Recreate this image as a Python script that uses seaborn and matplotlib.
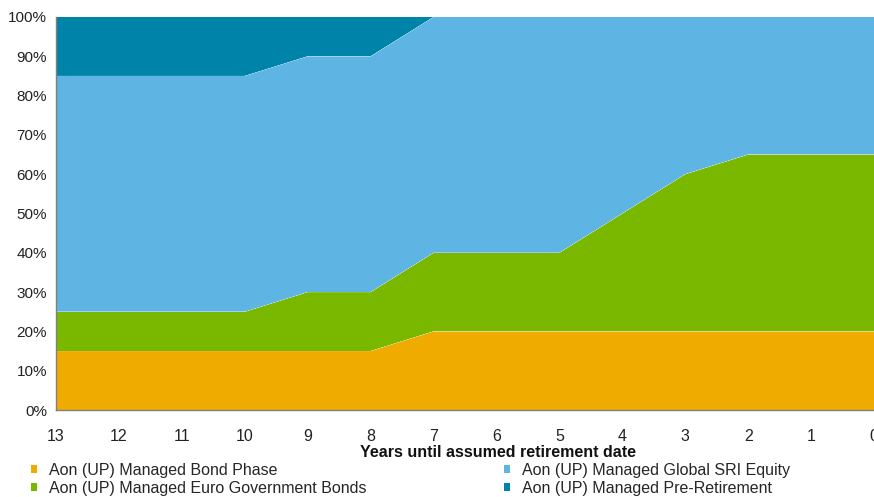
import matplotlib
matplotlib.use("Agg")
import matplotlib.pyplot as plt
import matplotlib.ticker as mticker
from matplotlib.patches import Patch
import pandas as pd
import seaborn as sns
import seaborn.objects as so

years = [13, 12, 11, 10, 9, 8, 7, 6, 5, 4, 3, 2, 1, 0]
bond_phase = [15, 15, 15, 15, 15, 15, 20, 20, 20, 20, 20, 20, 20, 20]
euro_gov = [10, 10, 10, 10, 15, 15, 20, 20, 20, 30, 40, 45, 45, 45]
global_sri = [60, 60, 60, 60, 60, 60, 60, 60, 60, 50, 40, 35, 35, 35]
pre_ret = [15, 15, 15, 15, 10, 10, 0, 0, 0, 0, 0, 0, 0, 0]

series_names = [
    "Aon (UP) Managed Bond Phase",
    "Aon (UP) Managed Euro Government Bonds",
    "Aon (UP) Managed Global SRI Equity",
    "Aon (UP) Managed Pre-Retirement",
]
series_vals = [bond_phase, euro_gov, global_sri, pre_ret]
colors = ["#F0AB00", "#7AB800", "#5EB5E3", "#0083A9"]

rows = []
for name, vals in zip(series_names, series_vals):
    for x, v in zip(years, vals):
        rows.append({"year": x, "pct": v / 100.0, "fund": name})
df = pd.DataFrame(rows)

sns.set_theme(style="white")
plt.rcParams["font.family"] = ["Liberation Sans", "DejaVu Sans"]

fig = plt.figure(figsize=(8.74, 4.97), dpi=100)
ax = fig.add_axes([56 / 874, 87 / 497, 818 / 874, 393 / 497])

p = (
    so.Plot(df, x="year", y="pct", color="fund")
    .add(so.Area(alpha=1, edgewidth=0), so.Stack(), legend=False)
    .scale(color=so.Nominal(dict(zip(series_names, colors)), order=series_names))
    .on(ax)
)
p.plot()

ax.set_xlim(13, 0)
ax.set_ylim(0, 1)
ax.set_xticks(years)
ax.set_xticklabels([str(y) for y in years])
ax.set_yticks([i / 10 for i in range(11)])
ax.yaxis.set_major_formatter(mticker.FuncFormatter(lambda v, _: f"{v * 100:.0f}%"))
ax.tick_params(axis="x", length=0, pad=13.5, labelsize=11.5, colors="#222222")
ax.tick_params(axis="y", length=0, pad=6.5, labelsize=11, colors="#222222")
for lbl in ax.get_xticklabels():
    lbl.set_clip_on(False)
ax.set_xlabel("Years until assumed retirement date", fontsize=11.5, fontweight="bold",
              color="#111111")
ax.xaxis.set_label_coords(0.54, -0.109, transform=ax.transAxes)
ax.xaxis.label.set_verticalalignment("center")
ax.set_ylabel("")
for s in ["top", "right"]:
    ax.spines[s].set_visible(False)
for s in ["left", "bottom"]:
    ax.spines[s].set_visible(True)
    ax.spines[s].set_color("#808080")
    ax.spines[s].set_linewidth(1.0)
ax.grid(False)
ax.set_facecolor("white")

handles = [Patch(facecolor=c, edgecolor="none") for c in colors]
fig.legend(handles, series_names, ncol=2, loc="lower left",
           bbox_to_anchor=(0.028, -0.010), frameon=False, fontsize=11.5,
           handlelength=0.4, handleheight=0.4, handletextpad=0.75,
           columnspacing=8.6, labelspacing=0.16, borderaxespad=0)

fig.savefig("out.png", dpi=100, facecolor="white")
